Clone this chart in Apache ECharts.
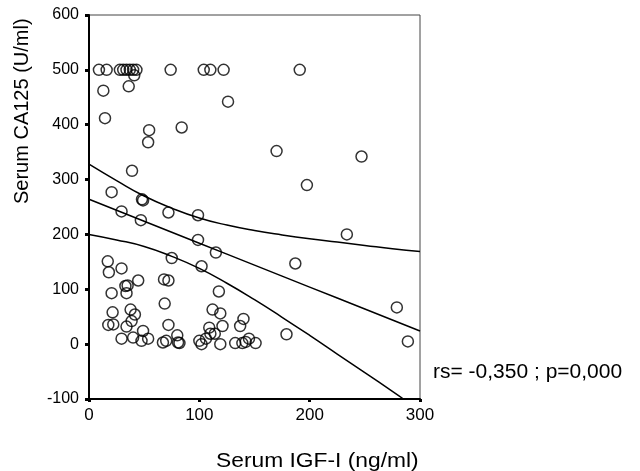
<!DOCTYPE html>
<html>
<head>
<meta charset="utf-8">
<script src="https://cdn.jsdelivr.net/npm/echarts@6/dist/echarts.min.js"></script>
<style>html,body{margin:0;padding:0;background:#fff;}#c{width:640px;height:471px;}</style>
</head>
<body>
<div id="c"></div>
<script>
// Scatter data: Serum IGF-I (x) vs Serum CA125 (y)
const igf = [9,16,28,31,34,37,40,43,74,104,110,122,191,
  41,13,36,14.5,126,54.5,84,53.6,39,20.5,49,48,29.5,47,72,98.8,98.8,115,17,29.5,75,102,18,33,35,44.6,34,20.5,68,72,117.7,68.6,21.4,37.7,41.6,38.6,112,119,140,17.5,22,34,49,72,109,121,137,114,29.5,40,47.6,53.6,67,70,80,80.7,82,100,102,106,110,119,132.5,139,142,145,151,
  170,247,197.5,233.7,187,279,179,289];
const ca125 = [500,500,500,500,500,500,500,500,500,500,500,500,500,
  490,462,470,412,442,390,395,368,316,277,262,264,242,226,240,235,190,167,151,138,157,142,131,106,107,116,93,93,118,116,96,74,58,63,54,42,63,56,46,35,36,32,24,35,30,33,33,19,10,12,6,10,3,6,16,3,2,6,0,10,19,0,2,2,4,10,2,
  352,342,290,200,147,67,18,5];
// Regression line and confidence band
const fitX = [0,25,50,75,100,125,150,175,200,225,250,275,300];
const fitY = [264,244,224,204,184,164,144,124,104,84,64,44,24];
const upperY = [328,298,270,248,230,217,207,199,192,186,180,174,169];
const lowerX = [0,25,50,75,100,125,150,175,200,225,250,275,285];
const lowerY = [200,190,178,160,138,111,81,49,16,-18,-52,-86,-100];
const xTicks = [0,100,200,300];
const yTicks = [-100,0,100,200,300,400,500,600];

const font = '"Liberation Sans", Arial, sans-serif';
const chart = echarts.init(document.getElementById('c'));
const zip = (a,b) => a.map((v,i)=>[v,b[i]]);
chart.setOption({
  animation:false,
  backgroundColor:'#fff',
  grid:{left:89,right:220,top:15,bottom:72,show:true,borderColor:'#444',borderWidth:1},
  xAxis:{type:'value',min:xTicks[0],max:xTicks[xTicks.length-1],interval:100,
    splitLine:{show:false},
    axisLine:{onZero:false,lineStyle:{color:'#000',width:2}},
    axisTick:{length:3,lineStyle:{color:'#000',width:3}},
    axisLabel:{color:'#000',fontSize:17,fontFamily:font,margin:8}},
  yAxis:{type:'value',min:yTicks[0],max:yTicks[yTicks.length-1],interval:100,
    splitLine:{show:false},
    axisLine:{onZero:false,lineStyle:{color:'#000',width:2}},
    axisTick:{length:4,lineStyle:{color:'#000',width:3}},
    axisLabel:{color:'#000',fontSize:16,fontFamily:font,margin:10}},
  graphic:[
    {type:'text',x:12,y:204,rotation:Math.PI/2,
      style:{text:'Serum CA125 (U/ml)',fill:'#000',fontSize:20,fontFamily:font,textVerticalAlign:'top'}},
    {type:'text',x:216,y:461,scaleX:1.14,
      style:{text:'Serum IGF-I (ng/ml)',fill:'#000',fontSize:20,fontFamily:font,textAlign:'left',textVerticalAlign:'middle'}},
    {type:'text',x:433,y:372,scaleX:1.05,
      style:{text:'rs= -0,350 ; p=0,000',fill:'#000',fontSize:20,fontFamily:font,textAlign:'left',textVerticalAlign:'middle'}}
  ],
  series:[
    {type:'scatter',data:zip(igf,ca125),symbol:'circle',symbolSize:11,
      itemStyle:{color:'rgba(255,255,255,0)',borderColor:'#000',borderWidth:1.5},z:3},
    {type:'line',data:zip(fitX,fitY),showSymbol:false,smooth:false,
      lineStyle:{color:'#000',width:1.5},z:2},
    {type:'line',data:zip(fitX,upperY),showSymbol:false,smooth:true,
      lineStyle:{color:'#000',width:1.5},z:2},
    {type:'line',data:zip(lowerX,lowerY),showSymbol:false,smooth:true,
      lineStyle:{color:'#000',width:1.5},z:2}
  ]
});
</script>
</body>
</html>
